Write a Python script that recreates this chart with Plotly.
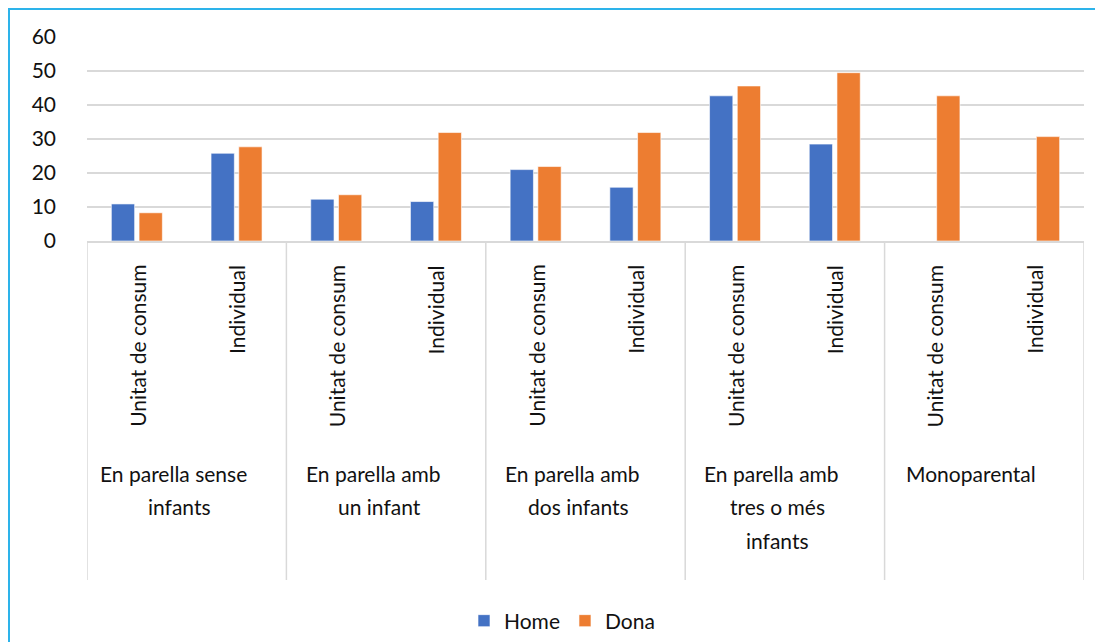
import plotly.graph_objects as go

# ---------------- data ----------------
group_lines = [
    ["En parella sense", "infants"],
    ["En parella amb", "un infant"],
    ["En parella amb", "dos infants"],
    ["En parella amb", "tres o més", "infants"],
    ["Monoparental"],
]
subcats = ["Unitat de consum", "Individual"]
home = [10.9, 25.8, 12.3, 11.6, 21.0, 15.8, 42.7, 28.5, None, None]
dona = [8.3, 27.7, 13.6, 31.9, 21.9, 31.9, 45.6, 49.5, 42.7, 30.7]
y_ticks = [0, 10, 20, 30, 40, 50, 60]

# ---------------- layout geometry (pixels, in window coordinates) ----------------
WIN_W, WIN_H = 1103, 642
OFF = 8                         # page body margin
W, H = WIN_W - OFF, WIN_H - OFF  # figure size
PL, PR, PT, PB = 87, 1084, 37, 241  # plot area in window coords
pw, ph = PR - PL, PB - PT


def px_x(px):
    return (px - PL) / pw


def px_y(py):
    return (PB - py) / ph


FONT = "Lato"
FS = 21
TXT = "#111111"
GRID = "#D9D9D9"

n_sub = len(subcats)
xpos = list(range(len(group_lines) * n_sub))

fig = go.Figure()
fig.add_trace(go.Bar(x=xpos, y=home, name="Home",
                     marker=dict(color="#4472C4", line=dict(color="rgba(255,255,255,0.6)", width=1))))
fig.add_trace(go.Bar(x=xpos, y=dona, name="Dona",
                     marker=dict(color="#ED7D31", line=dict(color="rgba(255,255,255,0.6)", width=1))))

annotations = []
# sub-category labels (rotated)
for i in xpos:
    annotations.append(dict(
        x=i, y=px_y(263), xref="x", yref="paper",
        text=subcats[i % n_sub], textangle=-90, showarrow=False,
        xanchor="center", yanchor="top",
        font=dict(family=FONT, size=FS, color=TXT)))
# group labels
for g, lines in enumerate(group_lines):
    cx = g * n_sub + (n_sub - 1) / 2
    for k, line in enumerate(lines):
        annotations.append(dict(
            x=cx, y=px_y(473 + 33.5 * k), xref="x", yref="paper",
            text=line, showarrow=False, xanchor="center", yanchor="middle",
            xshift=-13 if k == 0 else -7,
            font=dict(family=FONT, size=FS, color=TXT)))

shapes = []
# group separators
for g in range(len(group_lines) + 1):
    xs = g * n_sub - 0.5
    shapes.append(dict(type="line", xref="x", yref="paper", x0=xs, x1=xs,
                       y0=0, y1=px_y(580), line=dict(color=GRID, width=1.5)))
# outer frame (left & top)
shapes.append(dict(type="line", xref="paper", yref="paper",
                   x0=px_x(9), x1=px_x(9), y0=px_y(8), y1=px_y(WIN_H + 5),
                   line=dict(color="#2DB3EA", width=2)))
shapes.append(dict(type="line", xref="paper", yref="paper",
                   x0=px_x(8), x1=px_x(WIN_W + 5), y0=px_y(9), y1=px_y(9),
                   line=dict(color="#2DB3EA", width=2)))

fig.update_layout(
    width=W, height=H,
    margin=dict(l=PL - OFF, r=WIN_W - PR, t=PT - OFF, b=WIN_H - PB, autoexpand=False),
    paper_bgcolor="white", plot_bgcolor="white",
    barmode="group", bargap=0.444, bargroupgap=0.16,
    font=dict(family=FONT, size=FS, color=TXT),
    xaxis=dict(range=[-0.5, len(xpos) - 0.5], showticklabels=False, showgrid=False,
               zeroline=False, showline=True, linecolor=GRID, linewidth=1.5, ticks=""),
    yaxis=dict(range=[0, 60], tickvals=y_ticks, showgrid=True, gridcolor=GRID, gridwidth=1.5,
               zeroline=False, showline=False, ticks="", ticklabelstandoff=30,
               tickfont=dict(family=FONT, size=FS, color=TXT)),
    showlegend=True,
    legend=dict(orientation="h", x=px_x(562), y=px_y(621), xanchor="center", yanchor="middle",
                font=dict(family=FONT, size=FS, color=TXT), traceorder="normal",
                itemwidth=30, bgcolor="rgba(0,0,0,0)"),
    annotations=annotations, shapes=shapes,
)

fig.write_html("out.html")
